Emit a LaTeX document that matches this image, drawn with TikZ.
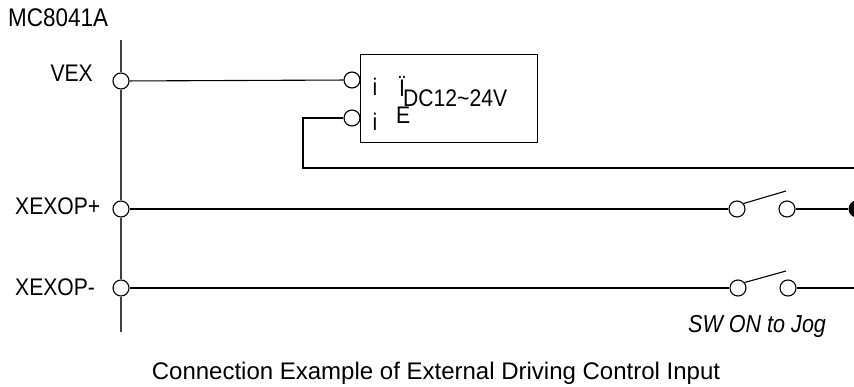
\documentclass[tikz,border=0pt]{standalone}
\usepackage{fontspec}
\setmainfont{Liberation Sans}
\newfontfamily\narrowfont{Liberation Sans}[FakeStretch=0.88]
\begin{document}
\begin{tikzpicture}[x=1pt,y=-1pt,
  term/.style={circle,draw,fill=white,minimum size=16pt,inner sep=0pt,line width=1.1pt},
  wire/.style={line width=1.1pt},
  lbl/.style={inner sep=0pt,font=\narrowfont\fontsize{24}{28}\selectfont},
  captext/.style={inner sep=0pt,font=\fontsize{24}{28}\selectfont},
  dotnode/.style={circle,fill,minimum size=17pt,inner sep=0pt}]
\useasboundingbox (0,0) rectangle (854,387);
% left bus
\node[term] (tv) at (121,81) {};
\node[term] (tp) at (121,209) {};
\node[term] (tm) at (121,288) {};
\coordinate (vtop) at (121,40);
\coordinate (vbot) at (121,332);
\draw[wire,black!75] (vtop) -- (tv) -- (tp) -- (tm) -- (vbot);
% labels
\node[lbl,anchor=base west,font=\narrowfont\fontsize{25.5}{28}\selectfont] (mc) at (8,27) {MC8041A};
\node[lbl,anchor=base east] (lv) at (93,82) {VEX};
\node[lbl,anchor=base west] (lp) at (15,215) {XEXOP+};
\node[lbl,anchor=base west] (lm) at (15,296) {XEXOP-};
% power box
\node[draw,line width=1pt,minimum width=177pt,minimum height=88pt,inner sep=0pt] (box) at (448.5,99) {};
\node[term] (bi1) at (352,80) {};
\node[term] (bi2) at (352,118) {};
\draw[wire] (tv) -- (bi1);
\coordinate (bl) at (303,118);
\coordinate (bl2) at (303,168);
\coordinate (br) at (860,168);
\draw[wire] (bi2) -- (bl) -- (bl2) -- (br);
\node[lbl,anchor=base] (i1) at (375,96) {i};
\node[lbl,anchor=base] (i2) at (375,131) {i};
\node[lbl,anchor=base] (ii) at (402,97) {Ï};
\node[lbl,anchor=base west] (ee) at (396,124) {E};
\node[lbl,anchor=base west] (dc) at (403,107) {DC12\textasciitilde 24V};
% switch +
\node[term] (s1a) at (737,209) {};
\node[term] (s1b) at (787,209) {};
\coordinate (s1t) at (786,191);
\node[dotnode] (d1) at (857,209) {};
\draw[wire] (tp) -- (s1a);
\draw[wire] (s1a.40) -- (s1t);
\draw[wire] (s1b) -- (d1);
% switch -
\node[term] (s2a) at (738,288) {};
\node[term] (s2b) at (788,288) {};
\coordinate (s2t) at (786,271);
\coordinate (r2) at (860,288);
\draw[wire] (tm) -- (s2a);
\draw[wire] (s2a.40) -- (s2t);
\draw[wire] (s2b) -- (r2);
% texts
\node[lbl,anchor=base west,font=\narrowfont\itshape\fontsize{24.5}{28}\selectfont] (sw) at (688,332) {SW ON to Jog};
\node[captext,anchor=base] (caption) at (436,379) {Connection Example of External Driving Control Input};
\end{tikzpicture}
\end{document}
